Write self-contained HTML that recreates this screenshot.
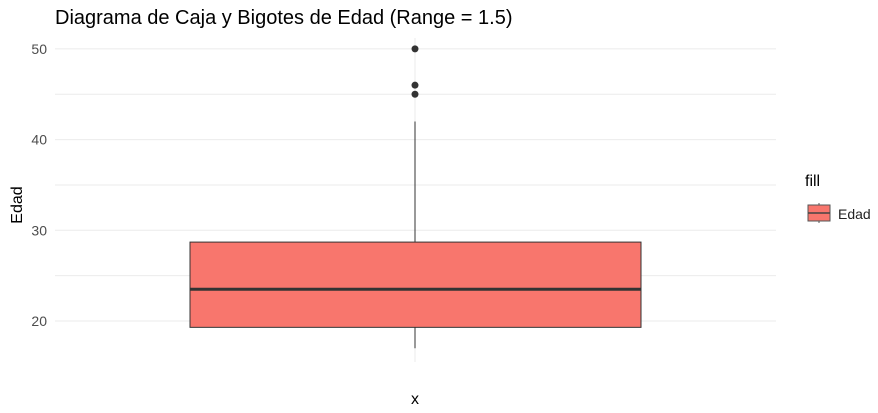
<!DOCTYPE html>
<html><head><meta charset="utf-8"><style>
body{margin:0;background:#fff;}
svg text{font-family:"Liberation Sans",sans-serif;}
</style></head><body>
<svg width="878" height="408" viewBox="0 0 878 408">
<text x="55" y="24" font-size="20" fill="#000">Diagrama de Caja y Bigotes de Edad (Range = 1.5)</text>
<g id="grid"></g>
<g id="yticks"></g>
<text transform="translate(22,205) rotate(-90)" text-anchor="middle" font-size="16" fill="#000">Edad</text>
<text x="415" y="404" text-anchor="middle" font-size="16" fill="#000">x</text>
<g id="box"></g>
<text x="805" y="186" font-size="16" fill="#000">fill</text>
<g>
<line x1="819" y1="203" x2="819" y2="223" stroke="#555" stroke-width="1"/>
<rect x="808" y="205" width="22" height="16" fill="#F8766D" stroke="#555" stroke-width="1"/>
<line x1="808" y1="213" x2="830" y2="213" stroke="#444" stroke-width="1.5"/>
<text x="838" y="219" font-size="14" fill="#222">Edad</text>
</g>
</svg>
<script>
const yTicks=[20,30,40,50];
const yMinor=[25,35,45];
const stats={min:17,q1:19.3,median:23.5,q3:28.7,max:42};
const outliers=[45,46,50];
const y=v=>321-(v-20)*9.07;
const NS="http://www.w3.org/2000/svg";
function mk(t,a,p){const e=document.createElementNS(NS,t);for(const k in a)e.setAttribute(k,a[k]);p.appendChild(e);return e;}
const grid=document.getElementById('grid'),yt=document.getElementById('yticks'),box=document.getElementById('box');
yTicks.concat(yMinor).forEach(v=>{const l=mk('line',{x1:55,x2:776,y1:y(v),y2:y(v),stroke:'#ebebeb','stroke-width':1},grid);

});
const vl=mk('line',{x1:415,x2:415,y1:38,y2:362,stroke:'#ebebeb','stroke-width':1},grid);


yTicks.forEach(v=>{const t=mk('text',{x:47,y:y(v)+5,'text-anchor':'end','font-size':14,fill:'#4d4d4d'},yt);t.textContent=v;

});
const w=mk('line',{x1:415,x2:415,y1:y(stats.max),y2:y(stats.min),stroke:'#333','stroke-width':1},box);


const r=mk('rect',{x:190,width:451,y:y(stats.q3),height:y(stats.q1)-y(stats.q3),fill:'#F8766D',stroke:'#333','stroke-width':1},box);


const m=mk('line',{x1:190,x2:641,y1:y(stats.median),y2:y(stats.median),stroke:'#333','stroke-width':3},box);


outliers.forEach(v=>{const c=mk('circle',{cx:415,cy:y(v),r:3.5,fill:'#333'},box);

});
</script>
</body></html>
